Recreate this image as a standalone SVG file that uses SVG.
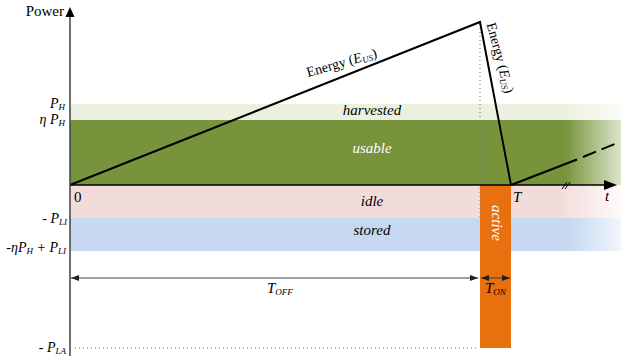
<svg xmlns="http://www.w3.org/2000/svg" width="621" height="360" viewBox="0 0 621 360">
<style>
text{font-family:"Liberation Serif","Times New Roman","DejaVu Serif",serif}
.t{font-size:15px;fill:#000}
.i{font-style:italic}
.lbl{font-size:14px;font-style:italic;fill:#000}
.sub{font-size:9px}
.w{fill:#fff}
.e{font-size:14px}
.dot{stroke:#777;stroke-width:1;stroke-dasharray:1 3;fill:none}
.dim{stroke:#404040;stroke-width:1;fill:none}
.thick{stroke:#000;stroke-width:2;fill:none}
</style>
<defs>
<linearGradient id="gH" gradientUnits="userSpaceOnUse" x1="560" y1="0" x2="621" y2="0"><stop offset="0" stop-color="#EBF1DE"/><stop offset="1" stop-color="#FAFCF6"/></linearGradient>
<linearGradient id="gU" gradientUnits="userSpaceOnUse" x1="565" y1="0" x2="621" y2="0"><stop offset="0" stop-color="#77933C"/><stop offset="1" stop-color="#DCE6CA"/></linearGradient>
<linearGradient id="gI" gradientUnits="userSpaceOnUse" x1="560" y1="0" x2="621" y2="0"><stop offset="0" stop-color="#F2DCDB"/><stop offset="1" stop-color="#FEFAFA"/></linearGradient>
<linearGradient id="gS" gradientUnits="userSpaceOnUse" x1="570" y1="0" x2="621" y2="0"><stop offset="0" stop-color="#C6D9F1"/><stop offset="1" stop-color="#F2F6FC"/></linearGradient>
<marker id="ar" viewBox="0 0 8 6" refX="8" refY="3" markerWidth="8" markerHeight="6" markerUnits="userSpaceOnUse" orient="auto-start-reverse"><path d="M0,0 L8,3 L0,6 Z" fill="#202020"/></marker>
</defs>

<g id="bands">
<rect id="harvested-band" x="70" y="104" width="551" height="16" fill="url(#gH)"/>
<rect id="usable-band" x="70" y="120" width="551" height="65" fill="url(#gU)"/>
<rect id="idle-band" x="70" y="185" width="551" height="33" fill="url(#gI)"/>
<rect id="stored-band" x="70" y="218" width="551" height="33" fill="url(#gS)"/>
<rect id="active-bar" x="480" y="185" width="31" height="163" fill="#E8700F"/>
</g>

<g id="band-labels">
<text class="t i" x="372" y="115" text-anchor="middle">harvested</text>
<text class="t i w" x="372" y="153" text-anchor="middle">usable</text>
<text class="t i" x="372" y="206" text-anchor="middle">idle</text>
<text class="t i" x="372" y="235" text-anchor="middle">stored</text>
<text class="t i w" transform="translate(492,223) rotate(90)" text-anchor="middle">active</text>
</g>

<g id="connectors">
<line class="dot" x1="480" y1="24" x2="480" y2="218"/>
<line class="dot" x1="75" y1="348" x2="479" y2="348"/>
<polyline class="thick" points="70,185 480,22 511,185"/>
<line class="thick" x1="511" y1="185" x2="577" y2="159.5"/>
<line class="thick" x1="583" y1="157" x2="617" y2="143" stroke-dasharray="14 6"/>
<line x1="70" y1="185" x2="606" y2="185" stroke="#000" stroke-width="1.5"/>
<polygon points="617,185 604,180 604,190" fill="#000"/>
<line x1="70" y1="356" x2="70" y2="16" stroke="#404040" stroke-width="1.5"/>
<polygon points="70,7 65.5,17 74.5,17" fill="#000"/>
<line x1="562" y1="189" x2="567" y2="182" stroke="#000" stroke-width="1"/>
<line x1="565" y1="189" x2="570" y2="182" stroke="#000" stroke-width="1"/>
<line class="dim" x1="71" y1="278" x2="478" y2="278" marker-start="url(#ar)" marker-end="url(#ar)"/>
<line class="dim" x1="481" y1="278" x2="510" y2="278" marker-start="url(#ar)" marker-end="url(#ar)"/>
</g>

<g id="energy-labels">
<text class="t e" transform="translate(308,77) rotate(-16)">Energy (<tspan class="i">E</tspan><tspan class="i sub" dy="2">US</tspan><tspan dy="-2">)</tspan></text>
<text class="t e" transform="translate(486.5,24) rotate(75)">Energy (<tspan class="i">E</tspan><tspan class="i sub" dy="2">US</tspan><tspan dy="-2">)</tspan></text>
</g>

<g id="axis-labels">
<text class="t" x="64" y="16" text-anchor="end">Power</text>
<text class="lbl" x="65" y="108" text-anchor="end">P<tspan class="sub" dy="2">H</tspan></text>
<text class="lbl" x="65" y="124" text-anchor="end">η P<tspan class="sub" dy="2">H</tspan></text>
<text class="lbl" x="67" y="223" text-anchor="end">- P<tspan class="sub" dy="2">LI</tspan></text>
<text class="lbl" x="66" y="252" text-anchor="end">-ηP<tspan class="sub" dy="2">H</tspan><tspan dy="-2"> + P</tspan><tspan class="sub" dy="2">LI</tspan></text>
<text class="lbl" x="66" y="352" text-anchor="end">- P<tspan class="sub" dy="2">LA</tspan></text>
<text class="t" x="74" y="202">0</text>
<text class="t i" x="513" y="202">T</text>
<text class="t i" x="605" y="201">t</text>
<text class="t i" x="267" y="293">T<tspan class="sub" dy="2">OFF</tspan></text>
<text class="t i" x="485" y="293">T<tspan class="sub" dy="2">ON</tspan></text>
</g>
</svg>
